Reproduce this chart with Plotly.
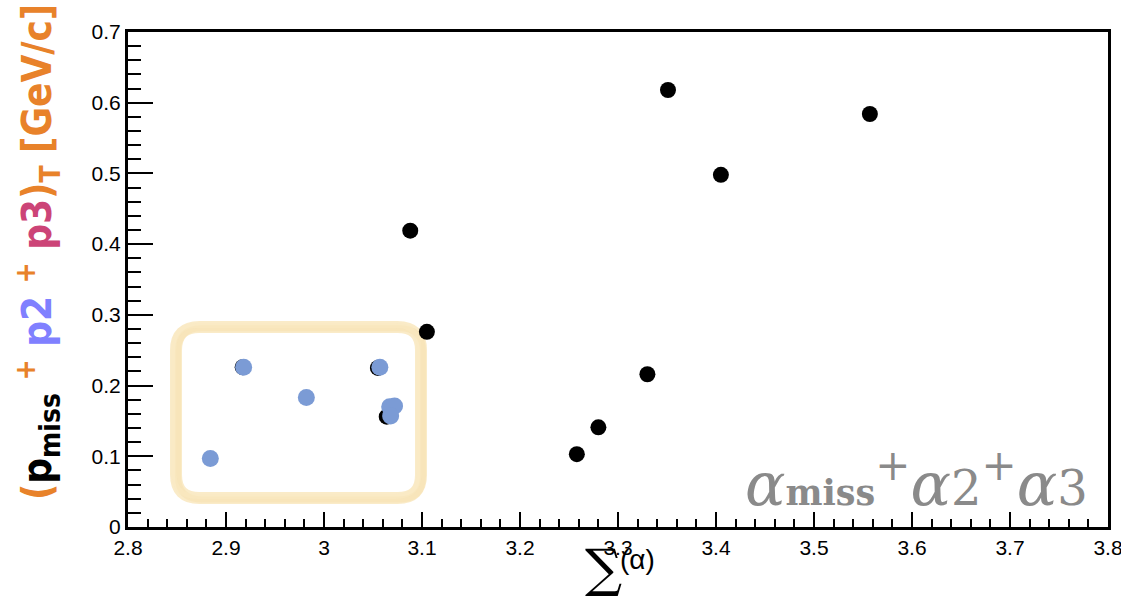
import plotly.graph_objects as go

# Summed opening angle vs. summed transverse momentum, all events
sum_alpha_all = [3.351, 3.557, 3.405, 3.088, 3.105, 3.330, 3.280, 3.258,
                 2.917, 3.055, 3.064]
pt_sum_all = [0.618, 0.584, 0.498, 0.419, 0.276, 0.216, 0.141, 0.103,
              0.226, 0.225, 0.156]

# Selected events (highlighted)
sum_alpha_sel = [2.884, 2.918, 2.982, 3.057, 3.067, 3.072, 3.068]
pt_sum_sel = [0.097, 0.226, 0.183, 0.226, 0.170, 0.171, 0.157]

# Axis ranges
x_range = [2.8, 3.8]
y_range = [0.0, 0.7]

# Highlight frame around the selected region (data units)
sel_x0, sel_x1 = 2.849, 3.099
sel_y0, sel_y1 = 0.041, 0.283

ORANGE = "#e8822a"
BLUE = "#8080ff"
PINK = "#cc4477"
GREY = "#8a8a8a"

fig = go.Figure()

fig.add_trace(go.Scatter(
    x=sum_alpha_all, y=pt_sum_all, mode="markers",
    marker=dict(size=16, color="black"), showlegend=False, hoverinfo="skip"))
fig.add_trace(go.Scatter(
    x=sum_alpha_sel, y=pt_sum_sel, mode="markers",
    marker=dict(size=17, color="#7b9bd5"), showlegend=False, hoverinfo="skip"))


def rounded_rect(x0, x1, y0, y1, rx, ry):
    return (f"M {x0 + rx},{y1} L {x1 - rx},{y1} Q {x1},{y1} {x1},{y1 - ry} "
            f"L {x1},{y0 + ry} Q {x1},{y0} {x1 - rx},{y0} "
            f"L {x0 + rx},{y0} Q {x0},{y0} {x0},{y0 + ry} "
            f"L {x0},{y1 - ry} Q {x0},{y1} {x0 + rx},{y1} Z")


# brush-like frame built from a few overlapping strokes
rx, ry = 0.024, 0.033
strokes = [
    (0.0, 0.0, 12, "rgba(248,228,182,0.75)"),
    (0.002, -0.002, 6, "rgba(246,222,168,0.45)"),
    (-0.002, 0.002, 5, "rgba(250,234,194,0.5)"),
]
for dx, dy, w, c in strokes:
    fig.add_shape(type="path",
                  path=rounded_rect(sel_x0 + dx, sel_x1 + dx, sel_y0 + dy, sel_y1 + dy, rx, ry),
                  xref="x", yref="y", line=dict(color=c, width=w),
                  fillcolor="rgba(0,0,0,0)", layer="below")

tick_font = dict(family="Liberation Sans, Arial, sans-serif", size=21, color="black")

fig.update_xaxes(
    range=x_range, dtick=0.1, ticks="inside", ticklen=15, tickwidth=2,
    tickcolor="black", showline=True, linewidth=3, linecolor="black",
    mirror=True, showgrid=False, zeroline=False, tickfont=tick_font,
    automargin=False, ticklabeloverflow="allow",
    minor=dict(dtick=0.02, ticks="inside", ticklen=8, tickwidth=2, tickcolor="black"))
fig.update_yaxes(
    range=y_range, dtick=0.1, ticks="inside", ticklen=25, tickwidth=2,
    tickcolor="black", showline=True, linewidth=3, linecolor="black",
    mirror=True, showgrid=False, zeroline=False, tickfont=tick_font,
    automargin=False, ticklabeloverflow="allow",
    minor=dict(dtick=0.02, ticks="inside", ticklen=13, tickwidth=2, tickcolor="black"))

# Y-axis title with coloured momentum terms
ytitle = (f'<b><span style="color:{ORANGE}">(</span>'
          f'<span style="color:black">p<sub>miss</sub></span>'
          f'<span style="color:{ORANGE}"> <sup>+</sup> </span>'
          f'<span style="color:{BLUE}">p2</span>'
          f'<span style="color:{ORANGE}"> <sup>+</sup> </span>'
          f'<span style="color:{PINK}">p3</span>'
          f'<span style="color:{ORANGE}">)<sub>T</sub> [GeV/c]</span></b>')
fig.add_annotation(
    text=ytitle, textangle=-90, xref="paper", yref="paper",
    x=-0.092, y=0.555, xanchor="center", yanchor="middle", showarrow=False,
    font=dict(family="DejaVu Sans Condensed, Liberation Sans Narrow, DejaVu Sans, sans-serif",
              size=40, color=ORANGE))

# X-axis title: sum sign with (α)
fig.add_annotation(
    text="∑", xref="paper", yref="paper", x=0.4857, y=-0.083,
    xanchor="center", yanchor="middle", showarrow=False,
    font=dict(family="DejaVu Serif, serif", size=52, color="black"))
fig.add_annotation(
    text="(α)", xref="paper", yref="paper", x=0.52, y=-0.066,
    xanchor="center", yanchor="middle", showarrow=False,
    font=dict(family="Liberation Sans, Arial, sans-serif", size=28, color="black"))

# Label inside the plot
label = ('<i>α</i><b><span style="font-size:35px">miss</span></b><sup>+</sup>'
         '<i>α</i><span style="font-size:48px">2</span><sup>+</sup>'
         '<i>α</i><span style="font-size:48px">3</span>')
fig.add_annotation(
    text=label, xref="paper", yref="paper", x=0.9816, y=0.095,
    xanchor="right", yanchor="middle", showarrow=False,
    font=dict(family="DejaVu Serif, serif", size=60, color=GREY))

fig.update_layout(
    width=1121, height=605,
    margin=dict(l=128, r=13, t=32, b=78, autoexpand=False),
    paper_bgcolor="white", plot_bgcolor="white",
    showlegend=False)

fig.write_html("out.html")
